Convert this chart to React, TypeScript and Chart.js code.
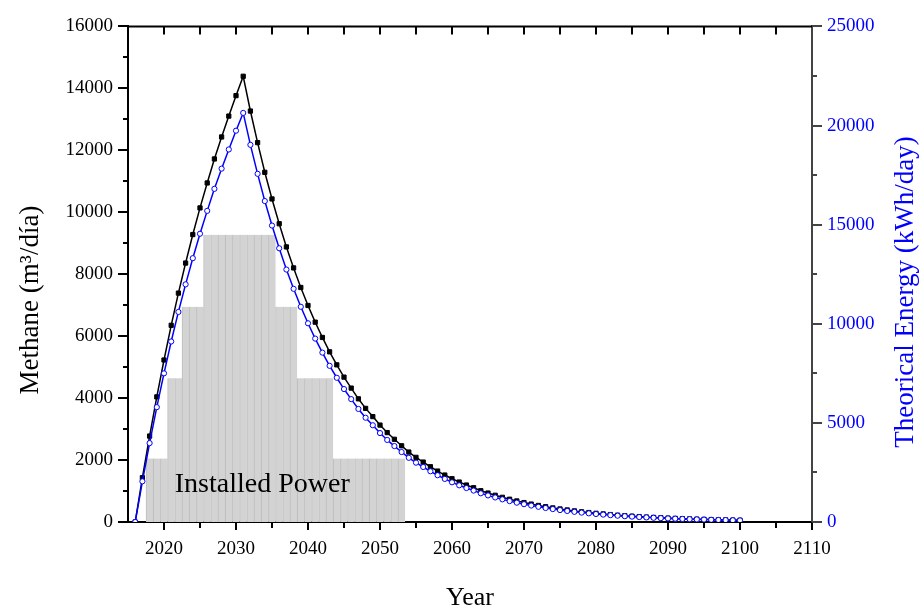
import React, { useEffect, useRef } from "react";
import { Chart, registerables } from "chart.js";

Chart.register(...registerables);

const years = [
  2016, 2017, 2018, 2019, 2020, 2021, 2022, 2023, 2024, 2025, 2026, 2027, 2028, 2029, 2030,
  2031, 2032, 2033, 2034, 2035, 2036, 2037, 2038, 2039, 2040, 2041, 2042, 2043, 2044, 2045,
  2046, 2047, 2048, 2049, 2050, 2051, 2052, 2053, 2054, 2055, 2056, 2057, 2058, 2059, 2060,
  2061, 2062, 2063, 2064, 2065, 2066, 2067, 2068, 2069, 2070, 2071, 2072, 2073, 2074, 2075,
  2076, 2077, 2078, 2079, 2080, 2081, 2082, 2083, 2084, 2085, 2086, 2087, 2088, 2089, 2090,
  2091, 2092, 2093, 2094, 2095, 2096, 2097, 2098, 2099, 2100,
];

// Methane (m3/día) – left axis
const methane = [
  0, 1430, 2775, 4040, 5230, 6350, 7390, 8360, 9280, 10140, 10945, 11720, 12430, 13105, 13765,
  14390, 13268, 12248, 11290, 10429, 9629, 8881, 8203, 7571, 6990, 6452, 5958, 5494, 5074, 4677,
  4323, 3977, 3668, 3403, 3129, 2887, 2671, 2461, 2258, 2087, 1935, 1784, 1645, 1516, 1397,
  1290, 1194, 1106, 1010, 935, 863, 797, 735, 679, 627, 579, 534, 493, 455, 420,
  388, 358, 330, 305, 281, 260, 240, 221, 204, 189, 174, 161, 148, 137, 126,
  117, 108, 99, 92, 85, 78, 72, 67, 62, 57,
];

// Theorical energy (kWh/day) – right axis
const energy = [
  0, 2051, 3979, 5793, 7500, 9106, 10597, 11988, 13308, 14541, 15695, 16806, 17825, 18793, 19739,
  20635, 19026, 17564, 16190, 14955, 13808, 12735, 11763, 10857, 10024, 9252, 8544, 7878, 7276, 6707,
  6199, 5703, 5260, 4880, 4487, 4140, 3830, 3529, 3238, 2993, 2775, 2558, 2359, 2174, 2003,
  1850, 1712, 1586, 1448, 1341, 1238, 1143, 1054, 974, 899, 830, 766, 707, 652, 602,
  556, 513, 473, 437, 403, 373, 344, 317, 293, 271, 250, 231, 212, 196, 181,
  168, 155, 142, 132, 122, 112, 103, 96, 89, 82,
];

// Installed power bars (drawn on left axis)
const installedYears = [
  2018, 2019, 2020, 2021, 2022, 2023, 2024, 2025, 2026, 2027, 2028, 2029, 2030, 2031, 2032,
  2033, 2034, 2035, 2036, 2037, 2038, 2039, 2040, 2041, 2042, 2043, 2044, 2045, 2046, 2047,
  2048, 2049, 2050, 2051, 2052, 2053,
];
const installedPower = [
  2050, 2050, 2050, 4640, 4640, 6950, 6950, 6950, 9270, 9270, 9270, 9270, 9270, 9270, 9270,
  9270, 9270, 9270, 6950, 6950, 6950, 4640, 4640, 4640, 4640, 4640, 2050, 2050, 2050, 2050,
  2050, 2050, 2050, 2050, 2050, 2050,
];

const xTicks = [2020, 2030, 2040, 2050, 2060, 2070, 2080, 2090, 2100, 2110];
const xMinorTicks = [2025, 2035, 2045, 2055, 2065, 2075, 2085, 2095, 2105];
const yTicks = [0, 2000, 4000, 6000, 8000, 10000, 12000, 14000, 16000];
const yMinorTicks = [1000, 3000, 5000, 7000, 9000, 11000, 13000, 15000];
const y1Ticks = [0, 5000, 10000, 15000, 20000, 25000];
const y1MinorTicks = [2500, 7500, 12500, 17500, 22500];

const xTitle = "Year";
const yTitle = "Methane (m³/día)";
const y1Title = "Theorical Energy (kWh/day)";
const barLabel = "Installed Power";

const FONT = "'Liberation Serif', 'Times New Roman', serif";
const BLUE = "#0000ff";

const decorPlugin = {
  id: "decor",
  afterDraw(chart: any) {
    const { ctx, chartArea } = chart;
    const { left, right, top, bottom } = chartArea;
    const x = chart.scales.x;
    const y = chart.scales.y;
    const y1 = chart.scales.y1;
    ctx.save();
    ctx.lineWidth = 2;
    ctx.strokeStyle = "#000";
    // top frame line
    ctx.beginPath();
    ctx.moveTo(left - 1, top);
    ctx.lineTo(right, top);
    ctx.stroke();
    // bottom ticks (outward)
    const drawV = (px: number, y0: number, y2: number) => {
      ctx.beginPath();
      ctx.moveTo(Math.round(px), y0);
      ctx.lineTo(Math.round(px), y2);
      ctx.stroke();
    };
    const drawH = (py: number, x0: number, x2: number) => {
      ctx.beginPath();
      ctx.moveTo(x0, Math.round(py));
      ctx.lineTo(x2, Math.round(py));
      ctx.stroke();
    };
    xTicks.forEach((v) => drawV(x.getPixelForValue(v), bottom, bottom + 8));
    xMinorTicks.forEach((v) => drawV(x.getPixelForValue(v), bottom, bottom + 6));
    // top ticks (inward)
    [...xTicks, ...xMinorTicks].forEach((v) => {
      if (v < 2110) drawV(x.getPixelForValue(v), top, top + 8);
    });
    // left ticks
    yTicks.forEach((v) => drawH(y.getPixelForValue(v), left - 10, left));
    yMinorTicks.forEach((v) => drawH(y.getPixelForValue(v), left - 5, left));
    // right ticks
    ctx.strokeStyle = "#444";
    y1Ticks.forEach((v) => drawH(y1.getPixelForValue(v), right, right + 10));
    y1MinorTicks.forEach((v) => drawH(y1.getPixelForValue(v), right, right + 5));

    // titles
    ctx.fillStyle = "#000";
    ctx.font = `26px ${FONT}`;
    ctx.textAlign = "center";
    ctx.textBaseline = "alphabetic";
    ctx.fillText(xTitle, (left + right) / 2, 605);

    ctx.save();
    ctx.translate(38, 300);
    ctx.rotate(-Math.PI / 2);
    ctx.font = `27px ${FONT}`;
    ctx.fillText(yTitle, 0, 0);
    ctx.restore();

    ctx.save();
    ctx.translate(913, 292);
    ctx.rotate(-Math.PI / 2);
    ctx.fillStyle = BLUE;
    ctx.font = `27px ${FONT}`;
    ctx.fillText(y1Title, 0, 0);
    ctx.restore();

    // Installed power label
    ctx.fillStyle = "#000";
    ctx.font = `28px ${FONT}`;
    ctx.textAlign = "left";
    ctx.fillText(barLabel, x.getPixelForValue(2021.5), y.getPixelForValue(980));
    ctx.restore();
  },
};

export default function App() {
  const ref = useRef<HTMLCanvasElement | null>(null);

  useEffect(() => {
    if (!ref.current) return;
    const chart = new Chart(ref.current, {
      type: "line",
      data: {
        datasets: [
          {
            type: "line",
            label: y1Title,
            data: years.map((yr, i) => ({ x: yr, y: energy[i] })),
            yAxisID: "y1",
            borderColor: BLUE,
            borderWidth: 1.5,
            pointStyle: "circle",
            pointRadius: 2.6,
            pointBackgroundColor: "#ffffff",
            pointBorderColor: BLUE,
            pointBorderWidth: 1,
            tension: 0,
            order: 0,
          },
          {
            type: "line",
            label: yTitle,
            data: years.map((yr, i) => ({ x: yr, y: methane[i] })),
            yAxisID: "y",
            borderColor: "#000",
            borderWidth: 1.5,
            pointStyle: "rect",
            pointRadius: 3,
            pointBackgroundColor: "#000",
            pointBorderColor: "#000",
            pointBorderWidth: 1,
            tension: 0,
            order: 1,
          },
          {
            type: "bar",
            label: barLabel,
            data: installedYears.map((yr, i) => ({ x: yr, y: installedPower[i] })),
            yAxisID: "y",
            backgroundColor: "#d3d3d3",
            borderColor: "#bdbdbd",
            borderWidth: { left: 1, right: 0, top: 0, bottom: 0 },
            borderSkipped: false,
            barPercentage: 1,
            categoryPercentage: 1,
            order: 2,
          } as any,
        ],
      },
      options: {
        animation: false,
        responsive: false,
        layout: { padding: { top: 26, left: 0, right: 0, bottom: 0 } },
        plugins: {
          legend: { display: false },
          tooltip: { enabled: false },
        },
        scales: {
          x: {
            type: "linear",
            position: "bottom",
            min: 2015,
            max: 2110,
            offset: false,
            afterBuildTicks: (s: any) => {
              s.ticks = xTicks.map((v) => ({ value: v }));
            },
            afterFit: (s: any) => {
              s.height = 85;
            },
            ticks: {
              callback: (v: any) => String(v),
              autoSkip: false,
              maxRotation: 0,
              padding: 16,
              color: "#000",
              font: { family: FONT, size: 19 },
            },
            grid: { display: false, drawTicks: false },
            border: { display: true, color: "#000", width: 2 },
          },
          y: {
            type: "linear",
            position: "left",
            min: 0,
            max: 16000,
            afterBuildTicks: (s: any) => {
              s.ticks = yTicks.map((v) => ({ value: v }));
            },
            afterFit: (s: any) => {
              s.width = 128;
            },
            ticks: {
              callback: (v: any) => String(v),
              autoSkip: false,
              padding: 15,
              color: "#000",
              font: { family: FONT, size: 19 },
            },
            grid: { display: false, drawTicks: false },
            border: { display: true, color: "#000", width: 2 },
          },
          y1: {
            type: "linear",
            position: "right",
            min: 0,
            max: 25000,
            afterBuildTicks: (s: any) => {
              s.ticks = y1Ticks.map((v) => ({ value: v }));
            },
            afterFit: (s: any) => {
              s.width = 110;
            },
            ticks: {
              callback: (v: any) => String(v),
              autoSkip: false,
              padding: 15,
              color: BLUE,
              font: { family: FONT, size: 19 },
            },
            grid: { display: false, drawTicks: false },
            border: { display: true, color: "#444", width: 2 },
          },
        },
      },
      plugins: [decorPlugin],
    } as any);
    return () => chart.destroy();
  }, []);

  return (
    <canvas
      ref={ref}
      width={922}
      height={607}
      style={{ position: "absolute", left: 0, top: 0, display: "block" }}
    />
  );
}
